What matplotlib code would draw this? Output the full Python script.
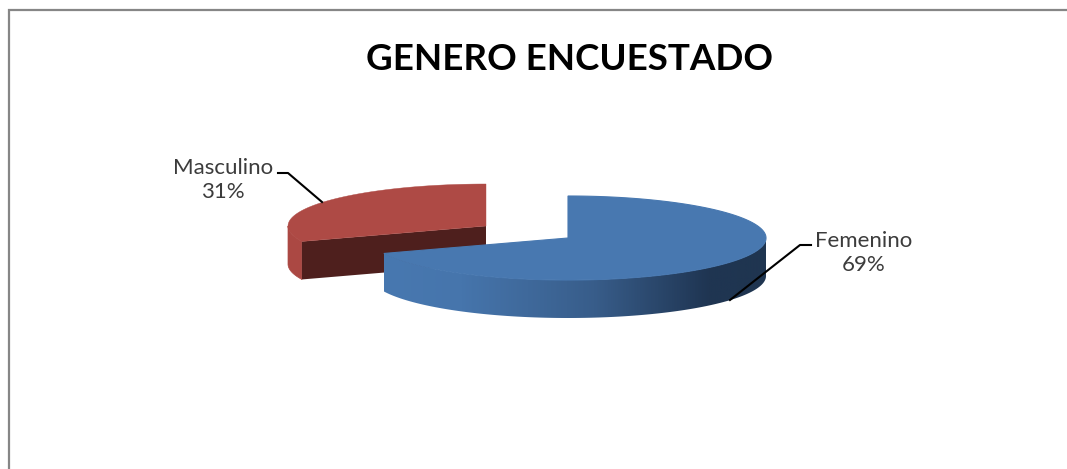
import matplotlib
matplotlib.use('Agg')
import matplotlib.pyplot as plt
from matplotlib.patches import Polygon
from matplotlib.colors import LinearSegmentedColormap
import numpy as np

# datos
titulo = 'GENERO ENCUESTADO'
categorias = ['Femenino', 'Masculino']
porcentajes = [69, 31]

# geometria de la torta (en pixeles de la figura)
rx, ry = 198, 42
alto = 38
centro_fem = (568, 238)
centro_mas = (486, 226)

fig = plt.figure(figsize=(10.67, 4.69), dpi=100)
ax = fig.add_axes([0, 0, 1, 1])

# marco del grafico, solo arriba y a la izquierda
ax.plot([9, 9, 1067], [469, 10, 10], color='#868686', lw=1.6, solid_joinstyle='miter')

# angulos: se empieza arriba y se va en sentido horario
inicio = 90
fin = inicio - 360 * porcentajes[0] / sum(porcentajes)


def borde(c, a1, a2, n=200):
    t = np.radians(np.linspace(a1, a2, n))
    return np.column_stack([c[0] + rx * np.cos(t), c[1] - ry * np.sin(t)])


# Masculino (va atras): solo se ve el costado hasta el extremo izquierdo
arco = borde(centro_mas, fin, -180, 60)
ax.add_patch(Polygon(np.vstack([arco, arco[::-1] + [0, alto]]), fc='#AB4843', ec='#AB4843', lw=0.5))
p = arco[0]
cara = [centro_mas, p, p + [0, alto], (centro_mas[0], centro_mas[1] + alto)]
ax.add_patch(Polygon(cara, fc='#4E1F1D', ec='none'))
arco = borde(centro_mas, fin, fin - 360 * porcentajes[1] / sum(porcentajes))
ax.add_patch(Polygon(np.vstack([[centro_mas], arco]), fc='#AE4A45', ec='#AE4A45', lw=0.3))

# Femenino: costado con degradado horizontal
cmap = LinearSegmentedColormap.from_list('lado', [(0, '#4878B0'), (0.2, '#4675AC'),
                                                  (0.55, '#385D8A'), (0.85, '#1F3552'), (1, '#1F3550')])
arco = borde(centro_fem, fin, 0, 300)
lado = Polygon(np.vstack([arco, arco[::-1] + [0, alto]]), fc='none', ec='none')
ax.add_patch(lado)
xmin, xmax = arco[:, 0].min(), arco[:, 0].max()
degradado = np.linspace(0, 1, 400).reshape(1, -1)
im = ax.imshow(degradado, cmap=cmap, aspect='auto', zorder=1,
               extent=[xmin, xmax, arco[:, 1].max() + alto, arco[:, 1].min()])
im.set_clip_path(lado)

arco = borde(centro_fem, inicio, fin, 300)
ax.add_patch(Polygon(np.vstack([[centro_fem], arco]), fc='#4878B0', ec='#4878B0', lw=0.8))

# lineas guia
ax.plot([322, 288, 278], [202, 173, 173], color='black', lw=1.5)
ax.plot([730, 800, 811], [300, 245, 245], color='black', lw=1.5)

# textos
ax.text(569, 60, titulo, fontsize=26.5, fontweight='bold', family='Lato', color='black',
        ha='center', va='center')
pos_texto = [(864, 253), (223, 180)]
for cat, val, (x, y) in zip(categorias, porcentajes, pos_texto):
    ax.text(x, y, f'{cat}\n{val}%', fontsize=16, family='Lato', color='#3c3c3c',
            ha='center', va='center', linespacing=1.25)

ax.set_xlim(0, 1067)
ax.set_ylim(469, 0)
ax.axis('off')

fig.savefig('out.png', dpi=100)
